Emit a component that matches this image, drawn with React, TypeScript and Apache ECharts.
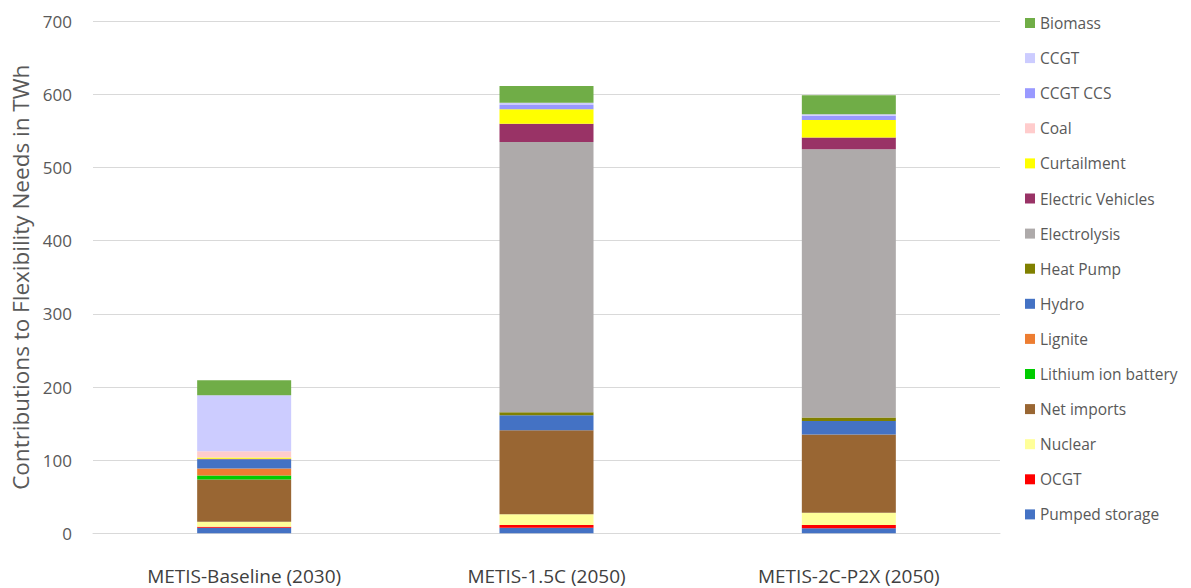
import React, { useEffect, useRef } from "react";
import * as echarts from "echarts";

const categories = ["METIS-Baseline (2030)", "METIS-1.5C (2050)", "METIS-2C-P2X (2050)"];

// stacking order bottom -> top
const seriesNames = [
  "Pumped storage", "OCGT", "Nuclear", "Net imports", "Lithium ion battery", "Lignite",
  "Hydro", "Heat Pump", "Electrolysis", "Electric Vehicles", "Curtailment", "Coal",
  "CCGT CCS", "CCGT", "Biomass",
];

const pumpedStorage = [7.6, 7.6, 6.8];
const ocgt = [1.4, 3.7, 4.5];
const nuclear = [6.8, 14.6, 16.8];
const netImports = [57.8, 115, 106.9];
const lithium = [5.5, 0, 0];
const lignite = [9.5, 0, 0];
const hydro = [12.8, 20.4, 18.6];
const heatPump = [0, 4.1, 4.6];
const electrolysis = [0, 369.7, 367];
const electricVehicles = [0.6, 25, 15.9];
const curtailment = [1.7, 19.6, 24.1];
const coal = [8.6, 0, 0];
const ccgtCcs = [0, 6, 5.5];
const ccgt = [76.4, 3, 2.3];
const biomass = [20.7, 22.8, 25.9];

const seriesValues = [
  pumpedStorage, ocgt, nuclear, netImports, lithium, lignite, hydro, heatPump,
  electrolysis, electricVehicles, curtailment, coal, ccgtCcs, ccgt, biomass,
];

const seriesColors = [
  "#4472C4", "#FF0000", "#FFFF99", "#996633", "#00CC00", "#ED7D31", "#4472C4",
  "#808000", "#AEAAAA", "#993366", "#FFFF00", "#FFCCCC", "#9999FF", "#CCCCFF", "#70AD47",
];

const yTicks = [0, 100, 200, 300, 400, 500, 600, 700];

const FONT = "'Open Sans', 'Liberation Sans', sans-serif";

export default function App() {
  const ref = useRef<HTMLDivElement>(null);
  useEffect(() => {
    document.body.style.margin = "0";
    const chart = echarts.init(ref.current!, null, { renderer: "svg" });
    chart.setOption({
      animation: false,
      textStyle: { fontFamily: FONT },
      grid: { left: 93, right: 191, top: 21.3, bottom: 54.7, containLabel: false },
      legend: {
        orient: "vertical",
        left: 1020,
        top: 10,
        itemWidth: 10,
        itemHeight: 10,
        itemGap: 19.1,
        icon: "rect",
        data: [...seriesNames].reverse(),
        textStyle: { fontSize: 15.5, color: "#595959", lineHeight: 16, fontFamily: FONT },
      },
      xAxis: {
        type: "category",
        data: categories,
        axisTick: { show: false },
        axisLine: { lineStyle: { color: "#D9D9D9", width: 1 } },
        axisLabel: { fontSize: 19, color: "#404040", margin: 33, fontFamily: FONT },
      },
      yAxis: {
        type: "value",
        min: yTicks[0],
        max: yTicks[yTicks.length - 1],
        interval: 100,
        name: "Contributions to Flexibility Needs in TWh",
        nameLocation: "middle",
        nameGap: 60,
        nameTextStyle: { fontSize: 22.5, color: "#595959", fontFamily: FONT },
        axisLine: { show: false },
        axisTick: { show: false },
        axisLabel: { fontSize: 17, color: "#595959", margin: 21, fontFamily: FONT },
        splitLine: { lineStyle: { color: "#D9D9D9", width: 1 } },
      },
      series: seriesNames.map((name, i) => ({
        name,
        type: "bar",
        stack: "total",
        barWidth: 94,
        data: seriesValues[i],
        itemStyle: { color: seriesColors[i] },
      })),
    });
    return () => chart.dispose();
  }, []);
  return <div ref={ref} style={{ width: 1191, height: 588 }} />;
}
